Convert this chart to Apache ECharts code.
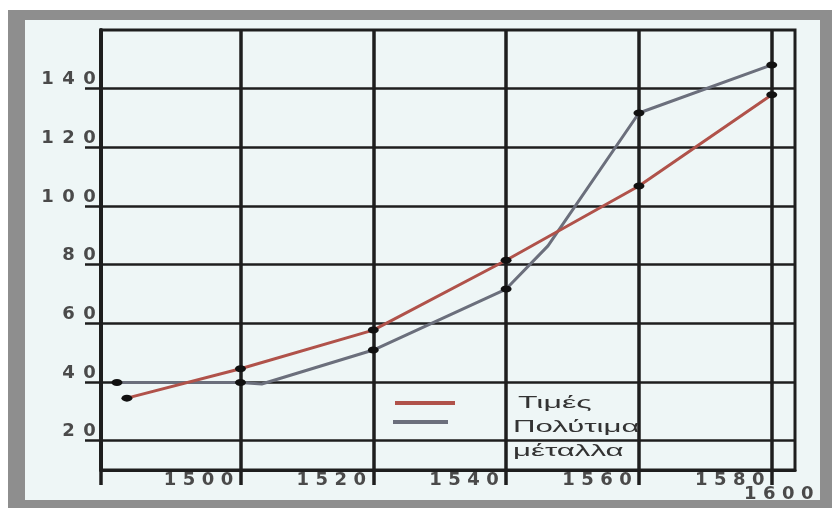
<!DOCTYPE html>
<html>
<head>
<meta charset="utf-8">
<script src="https://cdn.jsdelivr.net/npm/echarts@6/dist/echarts.min.js"></script>
<style>
html,body{margin:0;padding:0;background:#ffffff;}
#c{width:832px;height:508px;}
</style>
</head>
<body>
<div id="c"></div>
<script>
// ---- data ----
const seriesNames   = ['Τιμές', 'Πολύτιμα μέταλλα'];
const legendLines   = ['Τιμές', 'Πολύτιμα', 'μέταλλα'];

const pricesYears   = [1482.9, 1500, 1520, 1540, 1560, 1580];
const pricesValues  = [34.5, 44.5, 57.7, 81.5, 106.8, 137.9];

const metalsYears   = [1481.4, 1500, 1503.2, 1520, 1540, 1546.3, 1560, 1580];
const metalsValues  = [39.8, 39.8, 39.3, 50.9, 71.7, 86.4, 131.7, 148.1];
const metalsMarked  = [true, true, false, true, true, false, true, true];

const xMin = 1479, xMax = 1583.5;
const xTickValues = [1500, 1520, 1540, 1560, 1580];
const xTickLabels = ['1500', '1520', '1540', '1560', '1580'];
const xExtraLabel = '1600';

const yMin = 10, yMax = 160;
const yTickValues = [20, 40, 60, 80, 100, 120, 140];
const yTickLabels = ['20', '40', '60', '80', '100', '120', '140'];

// ---- styling ----
const ink = '#1e1e1e';
const priceColor = '#b0524a';
const metalColor = '#6b6f7c';
const paper = '#eef6f6';
const frameGrey = '#8e8e8e';
const digitColor = '#4a4a4a';

function spaced(s, key) {
  return String(s).split('').map(c => '{' + key + '|' + c + '}').join('');
}
function labelFor(values, labels, v) {
  const i = values.findIndex(t => Math.abs(t - v) < 1e-6);
  return i < 0 ? '' : labels[i];
}

const xDigit = { width: 19, align: 'center', fontSize: 18, lineHeight: 18, fontWeight: 'bold', fontFamily: 'DejaVu Sans', color: digitColor };
const yDigit = { width: 21, align: 'center', fontSize: 18, lineHeight: 18, fontWeight: 'bold', fontFamily: 'DejaVu Sans', color: digitColor };

const chart = echarts.init(document.getElementById('c'));

const option = {
  animation: false,
  backgroundColor: '#ffffff',
  grid: {
    left: 101, right: 37, top: 30, bottom: 38,
    show: true, backgroundColor: paper, borderColor: ink, borderWidth: 3
  },
  xAxis: {
    type: 'value', min: xMin, max: xMax,
    axisLine: { show: true, onZero: false, lineStyle: { color: ink, width: 3 } },
    axisTick: { show: true, inside: false, length: 15, customValues: [xMin].concat(xTickValues),
                lineStyle: { color: ink, width: 3.5 } },
    splitLine: { show: true, lineStyle: { color: ink, width: 3.5 } },
    axisLabel: {
      customValues: xTickValues, align: 'right', verticalAlign: 'top', margin: 1,
      padding: [0, 4, 0, 0],
      formatter: v => spaced(labelFor(xTickValues, xTickLabels, v), 'd'),
      rich: { d: xDigit }
    }
  },
  yAxis: {
    type: 'value', min: yMin, max: yMax,
    axisLine: { show: true, lineStyle: { color: ink, width: 4 } },
    axisTick: { show: true, inside: false, length: 16, customValues: yTickValues,
                lineStyle: { color: ink, width: 2.5 } },
    splitLine: { show: true, lineStyle: { color: ink, width: 2.5 } },
    axisLabel: {
      customValues: yTickValues, align: 'right', verticalAlign: 'bottom', margin: 1,
      formatter: v => spaced(labelFor(yTickValues, yTickLabels, v), 'd'),
      rich: { d: yDigit }
    }
  },
  series: [
    {
      name: seriesNames[0], type: 'line',
      data: pricesYears.map((x, i) => [x, pricesValues[i]]),
      symbol: 'circle', symbolSize: [11, 7],
      itemStyle: { color: '#111111' },
      lineStyle: { color: priceColor, width: 3 },
      z: 3
    },
    {
      name: seriesNames[1], type: 'line',
      data: metalsYears.map((x, i) => ({ value: [x, metalsValues[i]], symbol: metalsMarked[i] ? 'circle' : 'none' })),
      symbol: 'circle', symbolSize: [11, 7],
      itemStyle: { color: '#111111' },
      lineStyle: { color: metalColor, width: 3 },
      z: 2
    }
  ],
  graphic: [
    { type: 'rect', z: -20, shape: { x: 0, y: 0, width: 832, height: 508 }, style: { fill: '#ffffff' } },
    { type: 'rect', z: -19, shape: { x: 25, y: 20, width: 795, height: 480 }, style: { fill: paper } },
    { type: 'rect', z: -18, shape: { x: 8, y: 10, width: 17, height: 498 }, style: { fill: frameGrey } },
    { type: 'rect', z: -18, shape: { x: 8, y: 10, width: 824, height: 10 }, style: { fill: frameGrey } },
    { type: 'rect', z: -18, shape: { x: 820, y: 10, width: 12, height: 498 }, style: { fill: frameGrey } },
    { type: 'rect', z: -18, shape: { x: 8, y: 500, width: 824, height: 8 }, style: { fill: frameGrey } },
    // legend
    { type: 'line', z: 5, shape: { x1: 395, y1: 403, x2: 455, y2: 403 }, style: { stroke: priceColor, lineWidth: 4 } },
    { type: 'line', z: 5, shape: { x1: 393, y1: 422, x2: 448, y2: 422 }, style: { stroke: metalColor, lineWidth: 4 } },
    { type: 'text', z: 5, x: 518, y: 404, scaleX: 2.0,
      style: { text: legendLines[0], x: 0, y: 0, fill: '#333333', fontSize: 16, fontFamily: 'Liberation Sans', verticalAlign: 'middle', align: 'left' } },
    { type: 'text', z: 5, x: 513, y: 428, scaleX: 1.95,
      style: { text: legendLines[1], x: 0, y: 0, fill: '#333333', fontSize: 16, fontFamily: 'Liberation Sans', verticalAlign: 'middle', align: 'left' } },
    { type: 'text', z: 5, x: 513, y: 452, scaleX: 1.95,
      style: { text: legendLines[2], x: 0, y: 0, fill: '#333333', fontSize: 16, fontFamily: 'Liberation Sans', verticalAlign: 'middle', align: 'left' } }
  ]
};
chart.setOption(option);

// extra "1600" label placed under the last tick label via the axis scale
const px = chart.convertToPixel({ xAxisIndex: 0 }, xTickValues[xTickValues.length - 1]);
const py = chart.convertToPixel({ yAxisIndex: 0 }, yMin);
const extra = {
  type: 'text', z: 5, x: px - 31, y: py + 15,
  style: {
    text: spaced(xExtraLabel, 'd'), x: 0, y: 0, align: 'left', verticalAlign: 'top',
    rich: { d: { width: 19, align: 'center', fontSize: 18, lineHeight: 18, fontWeight: 'bold', fontFamily: 'DejaVu Sans', fill: digitColor } }
  }
};
chart.setOption({ graphic: option.graphic.concat([extra]) });
</script>
</body>
</html>
